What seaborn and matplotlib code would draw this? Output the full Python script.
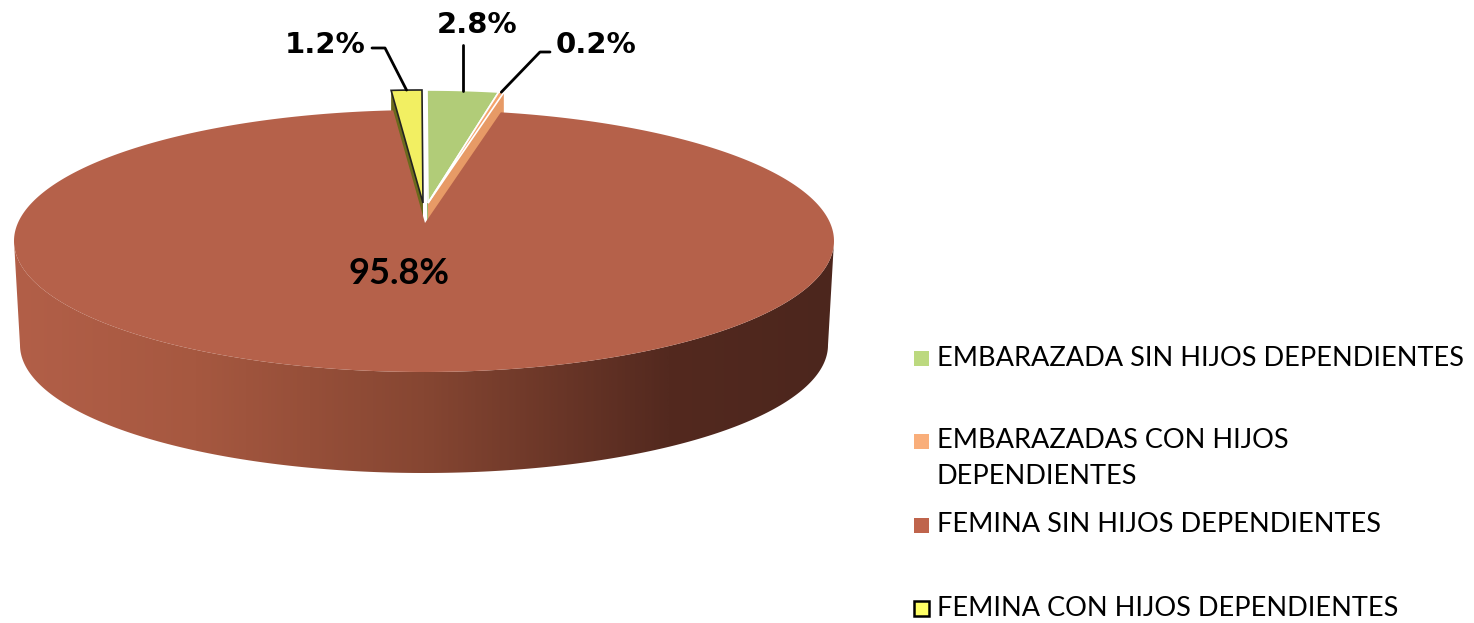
import numpy as np
import matplotlib.pyplot as plt
import seaborn as sns
from matplotlib.patches import Polygon, Rectangle
from matplotlib.colors import LinearSegmentedColormap

sns.set_style("white")
plt.rcParams['font.family'] = ['Lato', 'DejaVu Sans']

# ================= DATA =================
categories = [
    "EMBARAZADA SIN HIJOS DEPENDIENTES",
    "EMBARAZADAS CON HIJOS\nDEPENDIENTES",
    "FEMINA SIN HIJOS DEPENDIENTES",
    "FEMINA CON HIJOS DEPENDIENTES",
]
shares = [2.8, 0.2, 95.8, 1.2]
pct_labels = [f"{v}%" for v in shares]

top_colors = ["#b1cc78", "#f4a36c", "#b5614a", "#f2ef62"]
side_colors = ["#8fae5a", "#e79a66", "#8c4a37", "#6b6a1c"]
legend_colors = ["#bcd97f", "#f9ae7a", "#bf644c", "#ffff66"]
explode_off = [(3, -20), (3, -20), (0, 0), (-2, -20)]

# ================= GEOMETRY (pixels) =================
W, H = 1474, 623
cx, cy = 424, 241          # centre of top ellipse
rx, ry = 410, 131
px, py = 425, 223          # projected pie centre
depth = 104

fig = plt.figure(figsize=(W / 100, H / 100), dpi=100)
ax = fig.add_axes([0, 0, 1, 1])
ax.set_xlim(0, W)
ax.set_ylim(H, 0)
ax.axis("off")


def rim(t_deg, dx=0, dy=0):
    t = np.radians(t_deg)
    return cx + rx * np.cos(t) + dx, cy - ry * np.sin(t) + dy


bounds = 90 - 360 * np.concatenate([[0], np.cumsum(shares)]) / 100

# ================= EXPLODED SLICES =================
for i in range(len(shares)):
    dx, dy = explode_off[i]
    if dx == 0 and dy == 0:
        continue
    t0, t1 = bounds[i], bounds[i + 1]
    # radial side faces
    for t in (t0, t1):
        rxp, ryp = rim(t, dx, dy)
        quad = [(px + dx, py + dy), (rxp, ryp), (rxp, ryp + depth), (px + dx, py + dy + depth)]
        ax.add_patch(Polygon(quad, closed=True, fc=side_colors[i], ec="none", zorder=1 + i * 0.1))
for i in range(len(shares)):
    dx, dy = explode_off[i]
    if dx == 0 and dy == 0:
        continue
    t0, t1 = bounds[i], bounds[i + 1]
    ts = np.linspace(t0, t1, 30)
    xs, ys = rim(ts, dx, dy)
    pts = [(px + dx, py + dy)] + list(zip(xs, ys))
    ec = "#222222" if i == 3 else "white"
    ax.add_patch(Polygon(pts, closed=True, fc=top_colors[i], ec=ec, lw=1.2, zorder=2))

# ================= MAIN SLICE: SIDE WITH GRADIENT =================
big = 2
ts = np.linspace(180, 360, 200)
tx, ty = rim(ts)
bx = cx + (rx - 6) * np.cos(np.radians(ts))
by = cy + depth - (ry - 3) * np.sin(np.radians(ts))
side_pts = list(zip(tx, ty)) + list(zip(bx[::-1], by[::-1]))
side_poly = Polygon(side_pts, closed=True, fc="none", ec="none", zorder=3)
ax.add_patch(side_poly)
grad_cmap = LinearSegmentedColormap.from_list(
    "side", [(0, "#b25f48"), (0.22, "#a65840"), (0.5, "#864632"), (0.8, "#53291f"), (1, "#4c261d")]
)
grad = np.linspace(0, 1, 400).reshape(1, -1)
im = ax.imshow(grad, cmap=grad_cmap, aspect="auto",
               extent=[cx - rx, cx + rx, cy + depth + ry + 5, cy - 5], zorder=3)
im.set_clip_path(side_poly)

# ================= MAIN SLICE: TOP =================
ts = np.linspace(bounds[big], bounds[big + 1], 400)
xs, ys = rim(ts)
ax.add_patch(Polygon([(px, py)] + list(zip(xs, ys)), closed=True,
                     fc=top_colors[big], ec="none", zorder=4))

# ================= LABELS =================
mids = (bounds[:-1] + bounds[1:]) / 2
lbl_kw = dict(fontsize=21, fontweight="bold", color="black", zorder=6,
              family=["DejaVu Sans"])

# 2.8%
ax0, ay0 = rim(mids[0], *explode_off[0])
ax.plot([ax0, ax0], [ay0, 45], color="black", lw=2, zorder=5)
ax.text(477, 25, pct_labels[0], ha="center", va="center", **lbl_kw)

# 0.2%
ax1, ay1 = rim(mids[1], *explode_off[1])
ax.plot([ax1, 540, 550], [ay1, 52, 52], color="black", lw=2, zorder=5)
ax.text(556, 45, pct_labels[1], ha="left", va="center", **lbl_kw)

# 1.2%
ax3, ay3 = rim(mids[3], *explode_off[3])
ax.plot([ax3, 385, 372], [ay3, 48, 48], color="black", lw=2, zorder=5)
ax.text(366, 45, pct_labels[3], ha="right", va="center", **lbl_kw)

# 95.8%
ax.text(399, 273, pct_labels[2], ha="center", va="center", fontsize=26,
        fontweight="bold", color="black", zorder=6)

# ================= LEGEND =================
legend_y = [358, 441, 525, 608]
for i, name in enumerate(categories):
    y = legend_y[i]
    ec = "black" if i == 3 else "none"
    ax.add_patch(Rectangle((914, y - 7.5), 15, 15, fc=legend_colors[i], ec=ec, lw=1.8, zorder=6))
    for k, line in enumerate(name.split("\n")):
        ax.text(937, y + k * 36, line, ha="left", va="center", fontsize=19.5, color="black", zorder=6)

fig.savefig("out.png", dpi=100, facecolor="white")
